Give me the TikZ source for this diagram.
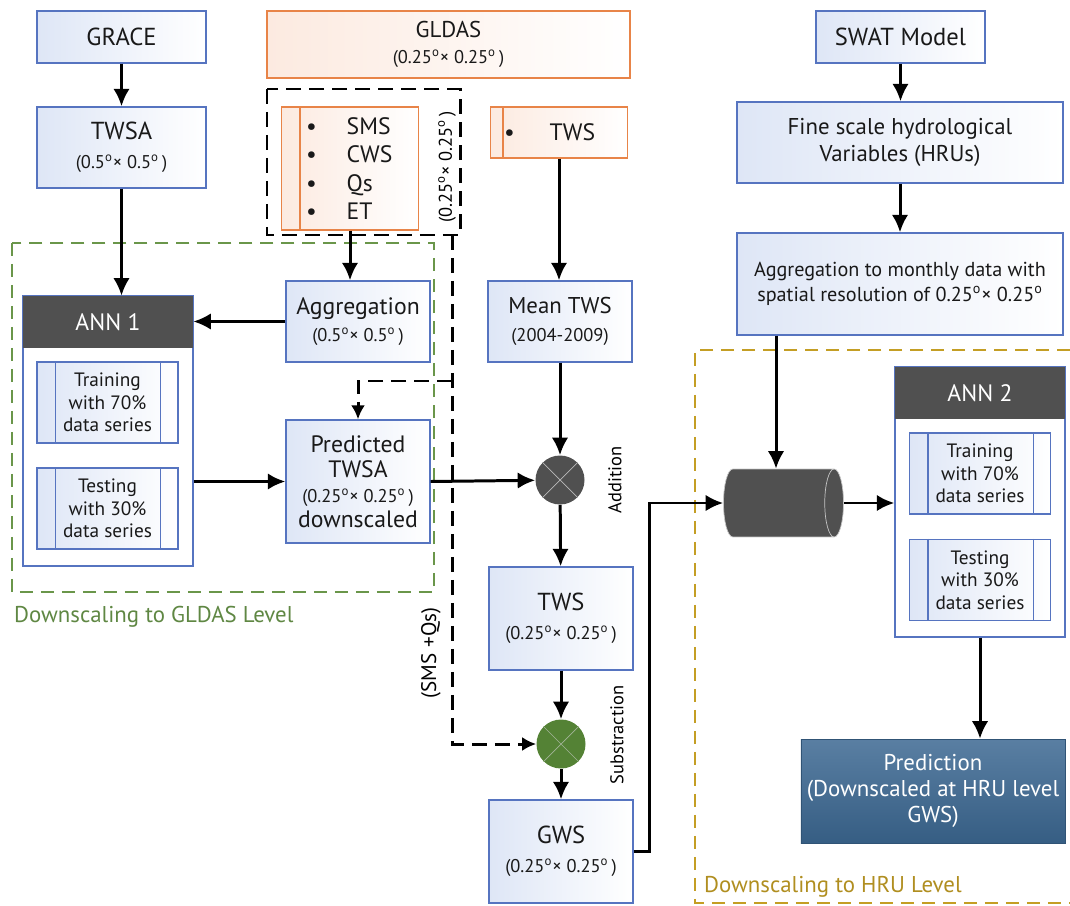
\documentclass[tikz,border=0pt]{standalone}
\usepackage{fontspec}
\setmainfont{PT Sans}
\usepackage{tikz}
\usetikzlibrary{positioning,arrows.meta,calc,shapes.geometric}

\definecolor{boxblue}{RGB}{86,116,192}
\definecolor{paleblue}{RGB}{222,230,246}
\definecolor{boxorange}{RGB}{232,132,72}
\definecolor{peach}{RGB}{252,234,224}
\definecolor{anngray}{RGB}{80,80,80}
\definecolor{subgreen}{RGB}{84,130,53}
\definecolor{gldasgreen}{RGB}{106,150,74}
\definecolor{hruyellow}{RGB}{196,158,36}
\definecolor{predblue}{RGB}{60,104,146}

\newcommand{\dgr}{\textsuperscript{o}}
\newcommand{\res}[1]{{\fontsize{10.5}{13}\selectfont #1}}

\begin{document}
\begin{tikzpicture}[x=0.02cm,y=-0.02cm,
	>={Latex[length=3.5mm,width=3.3mm]},
	databox/.style={draw=boxblue,line width=0.8pt,left color=paleblue,right color=white,
		align=center,text=black!90,inner sep=2pt,font=\fontsize{13.5}{15.5}\selectfont},
	listbox/.style={draw=boxorange,line width=0.8pt,left color=peach,right color=white,
		text=black!90,inner sep=2pt,font=\fontsize{13.5}{16.2}\selectfont},
	inbox/.style={databox,minimum width=2.82cm,minimum height=1.62cm,
		font=\fontsize{11}{12.8}\selectfont},
	annbox/.style={draw=boxblue,line width=0.8pt,fill=white,minimum width=3.4cm,minimum height=5.4cm},
	annhead/.style={fill=anngray,text=white,minimum width=3.4cm,minimum height=1.04cm,
		font=\fontsize{13.5}{15}\selectfont},
	opcircle/.style={circle,minimum size=0.98cm,inner sep=0pt},
	flow/.style={->,line width=1.7pt},
	dashflow/.style={line width=1.7pt,dash pattern=on 0.3cm off 0.16cm,
		-{Latex[length=2.8mm,width=2.8mm]}},
	side/.style={rotate=90,font=\fontsize{10.5}{12}\selectfont,inner sep=1pt}]

	\useasboundingbox (0,0) rectangle (1070,905);

	\draw[gldasgreen,line width=1.2pt,dash pattern=on 0.26cm off 0.16cm] (12,243) rectangle (434,592);
	\draw[hruyellow,line width=1.2pt,dash pattern=on 0.26cm off 0.16cm]
		(1070,350) -- (695,350) -- (695,903) -- (1070,903);
	\draw[line width=1.7pt,dash pattern=on 0.3cm off 0.16cm] (267,89) rectangle (460,235);

	\node[databox,minimum width=3.38cm,minimum height=1.04cm,font=\fontsize{14}{16}\selectfont]
		  (grace) at (121.5,37) {GRACE};
	\node[databox,minimum width=3.38cm,minimum height=1.62cm,font=\fontsize{14}{16.5}\selectfont]
		  (twsa) at (121.5,147.5) {TWSA\\\res{(0.5\dgr× 0.5\dgr\,)}};
	\node[listbox,align=center,minimum width=7.26cm,minimum height=1.34cm,font=\fontsize{13}{15}\selectfont]
		  (gldas) at (448.5,44.5) {GLDAS\\\res{(0.25\dgr× 0.25\dgr\,)}};
	\node[listbox,align=left,text width=2.6cm,minimum height=2.46cm]
		  (gvars) at (350,168.5) {\hspace*{0.42cm}\textbullet\hspace{0.6cm}SMS\\
		  \hspace*{0.42cm}\textbullet\hspace{0.6cm}CWS\\
		  \hspace*{0.42cm}\textbullet\hspace{0.6cm}Qs\\
		  \hspace*{0.42cm}\textbullet\hspace{0.6cm}ET};
	\node[listbox,align=left,text width=2.6cm,minimum height=1.02cm]
		  (tws0) at (559,132.5) {\hspace*{0.2cm}\textbullet\hspace{0.7cm}TWS};
	\node[side] (gres) at (447,167) {(0.25\dgr× 0.25\dgr\,)};

	\node[databox,minimum width=2.88cm,minimum height=1.62cm,font=\fontsize{13}{15.5}\selectfont]
		  (meantws) at (560,321.5) {Mean TWS\\\res{(2004-2009)}};
	\node[databox,minimum width=2.88cm,minimum height=1.62cm]
		  (agg) at (358,321.5) {Aggregation\\\res{(0.5\dgr× 0.5\dgr\,)}};
	\node[databox,minimum width=2.88cm,minimum height=2.46cm,font=\fontsize{13.5}{14.2}\selectfont]
		  (pred) at (358,481.5) {Predicted\\TWSA\\\res{(0.25\dgr× 0.25\dgr\,)}\\downscaled};

	\node[annbox] (ann1) at (108,431) {};
	\node[annhead] (ann1h) at (108,322) {ANN 1};
	\node[inbox] (train1) at (107.5,402.5) {Training\\with 70\%\\data series};
	\node[inbox] (test1) at (107.5,508.5) {Testing\\with 30\%\\data series};

	\node[opcircle,fill=anngray] (add) at (560,480) {};
	\node[side] (addl) at (615,480) {Addition};
	\node[databox,minimum width=2.88cm,minimum height=2.06cm,font=\fontsize{14}{16.5}\selectfont]
		  (tws) at (561,618.5) {TWS\\\res{(0.25\dgr× 0.25\dgr\,)}};
	\node[opcircle,fill=subgreen] (sub) at (561,744) {};
	\node[side] (subl) at (617,735) {Substraction};
	\node[databox,minimum width=2.88cm,minimum height=2.06cm,font=\fontsize{14}{16.5}\selectfont]
		  (gws) at (561,851.5) {GWS\\\res{(0.25\dgr× 0.25\dgr\,)}};
	\node[side,font=\fontsize{12}{13}\selectfont] (smsqs) at (431,653) {(SMS +Qs)};

	\node[databox,minimum width=3.38cm,minimum height=1.04cm,font=\fontsize{14}{16}\selectfont]
		  (swat) at (900.5,37) {SWAT Model};
	\node[databox,minimum width=6.52cm,minimum height=1.62cm,font=\fontsize{13}{15.5}\selectfont]
		  (fine) at (900,142.5) {Fine scale hydrological\\Variables (HRUs)};
	\node[databox,minimum width=6.52cm,minimum height=2.04cm,font=\fontsize{11.5}{14}\selectfont]
		  (aggm) at (900,284) {Aggregation to monthly data with\\spatial resolution of 0.25\dgr× 0.25\dgr};
	\node[cylinder,shape border rotate=0,shape aspect=1.6,fill=anngray,draw=gray!45,thin,
		  minimum height=2.4cm,minimum width=1.36cm] (cyl) at (776,503) {};
	\node[annbox] (ann2) at (980,502) {};
	\node[annhead] (ann2h) at (980,393) {ANN 2};
	\node[inbox] (train2) at (980,473.5) {Training\\with 70\%\\data series};
	\node[inbox] (test2) at (980,580) {Testing\\with 30\%\\data series};
	\node[draw=predblue!80!black,top color=predblue!85!white,bottom color=predblue!90!black,
		  text=white,align=center,minimum width=5.28cm,minimum height=2.08cm,
		  font=\fontsize{13}{15}\selectfont]
		  (predhru) at (933,791) {Prediction\\(Downscaled at HRU level\\GWS)};

	\node[anchor=west,text=gldasgreen!90!black,font=\fontsize{13}{15}\selectfont]
		  (lvl1) at (8,617) {Downscaling to GLDAS Level};
	\node[anchor=west,text=hruyellow!90!black,font=\fontsize{13}{15}\selectfont]
		  (lvl2) at (698,887) {Downscaling to HRU Level};

	\draw[boxblue,line width=0.8pt] ($(train1.north west)+(19,0)$) -- ($(train1.south west)+(19,0)$)
		($(train1.north east)+(-18,0)$) -- ($(train1.south east)+(-18,0)$);
	\draw[boxblue,line width=0.8pt] ($(test1.north west)+(19,0)$) -- ($(test1.south west)+(19,0)$)
		($(test1.north east)+(-18,0)$) -- ($(test1.south east)+(-18,0)$);
	\draw[boxblue,line width=0.8pt] ($(train2.north west)+(19,0)$) -- ($(train2.south west)+(19,0)$)
		($(train2.north east)+(-18,0)$) -- ($(train2.south east)+(-18,0)$);
	\draw[boxblue,line width=0.8pt] ($(test2.north west)+(19,0)$) -- ($(test2.south west)+(19,0)$)
		($(test2.north east)+(-18,0)$) -- ($(test2.south east)+(-18,0)$);
	\draw[boxorange,line width=0.8pt] ($(gvars.north west)+(19,0)$) -- ($(gvars.south west)+(19,0)$);
	\draw[boxorange,line width=0.8pt] ($(tws0.north west)+(13,0)$) -- ($(tws0.south west)+(13,0)$);
	\draw[gray!55,thin] (add.45) -- (add.225) (add.135) -- (add.315);
	\draw[gray!40!subgreen!60!white,thin] (sub.45) -- (sub.225) (sub.135) -- (sub.315);

	\draw[flow] (grace) -- (twsa);
	\draw[flow] (twsa.south) -- (twsa.south |- ann1h.north);
	\draw[flow] (gvars.south) -- (gvars.south |- agg.north);
	\draw[flow] (agg.west) -- (agg.west -| ann1h.east);
	\draw[flow] (pred.west -| ann1.east) -- (pred.west);
	\draw[flow] (pred.east) -- (add);
	\draw[flow] (tws0.south) -- (tws0.south |- meantws.north);
	\draw[flow] (meantws) -- (add);
	\draw[flow] (add) -- (tws);
	\draw[flow] (tws) -- (sub);
	\draw[flow] (sub) -- (gws);
	\draw[flow] (gws.east) -- ++(16,0) |- (cyl.west);
	\draw[flow] (swat) -- (swat |- fine.north);
	\draw[flow] (fine) -- (aggm);
	\draw[flow] (aggm.south -| cyl.north) -- (cyl.north);
	\draw[flow] (cyl.east) -- (cyl.east -| ann2.west);
	\draw[flow] (ann2.south) -- (ann2.south |- predhru.north);

	\coordinate (qs) at (452,235);
	\coordinate (qsb) at (452,381);
	\draw[dashflow] (qs) |- (sub);
	\draw[dashflow] (qsb) -| (pred);
\end{tikzpicture}
\end{document}
